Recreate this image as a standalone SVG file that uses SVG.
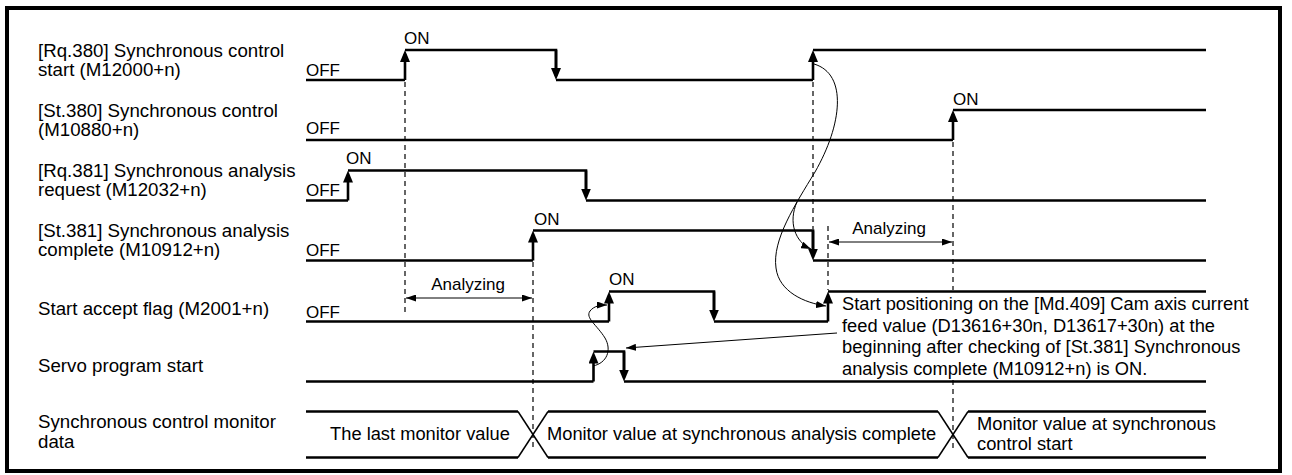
<svg xmlns="http://www.w3.org/2000/svg" width="1292" height="475" viewBox="0 0 1292 475">
<defs>
<style>
.t{font-family:"Liberation Sans",Arial,sans-serif;fill:#000}
.lbl{font-size:18.7px}
.st{font-size:17px}
.note{font-size:18.3px}
.sig{fill:none;stroke:#000;stroke-width:2.6;stroke-linejoin:miter}
.edge{stroke:#000;stroke-width:2.6;marker-end:url(#big)}
.dash{stroke:#000;stroke-width:1.2;stroke-dasharray:5 4;fill:none}
.thin{fill:none;stroke:#000;stroke-width:1}
.dim{stroke:#000;stroke-width:1;marker-end:url(#small);marker-start:url(#small)}
.diag{stroke:#000;stroke-width:1.5}
</style>
<marker id="big" markerUnits="userSpaceOnUse" viewBox="0 0 12 10" markerWidth="12" markerHeight="10" refX="8" refY="5" orient="auto"><path d="M0,0 L12,5 L0,10 z" fill="#000"/></marker>
<marker id="small" markerUnits="userSpaceOnUse" viewBox="0 0 10 7" markerWidth="10" markerHeight="7" refX="10" refY="3.5" orient="auto-start-reverse"><path d="M0,0 L10,3.5 L0,7 z" fill="#000"/></marker>
</defs>
<rect x="7" y="8" width="1273" height="463" fill="#fff" stroke="#000" stroke-width="4"/>

<g id="row-rq380">
<text class="t lbl" x="38" y="56.5">[Rq.380] Synchronous control</text>
<text class="t lbl" x="38" y="75.5">start (M12000+n)</text>
<text class="t st" x="306" y="76">OFF</text>
<text class="t st" x="404" y="44">ON</text>
<polyline class="sig" points="306,80 405,80"/>
<line class="edge" x1="405" y1="80" x2="405" y2="54"/>
<polyline class="sig" points="405,50 556,50 556,70"/>
<line class="edge" x1="556" y1="50" x2="556" y2="76"/>
<polyline class="sig" points="556,80 813,80"/>
<line class="edge" x1="813" y1="80" x2="813" y2="54"/>
<polyline class="sig" points="813,50 1206,50"/>
</g>

<g id="row-st380">
<text class="t lbl" x="38" y="116.5">[St.380] Synchronous control</text>
<text class="t lbl" x="38" y="135.5">(M10880+n)</text>
<text class="t st" x="306" y="134">OFF</text>
<text class="t st" x="953" y="105">ON</text>
<polyline class="sig" points="306,140 953,140"/>
<line class="edge" x1="953" y1="140" x2="953" y2="114"/>
<polyline class="sig" points="953,110 1206,110"/>
</g>

<g id="row-rq381">
<text class="t lbl" x="38" y="177">[Rq.381] Synchronous analysis</text>
<text class="t lbl" x="38" y="196">request (M12032+n)</text>
<text class="t st" x="306" y="196">OFF</text>
<text class="t st" x="346" y="164">ON</text>
<polyline class="sig" points="306,200.5 348,200.5"/>
<line class="edge" x1="348" y1="200.5" x2="348" y2="174.5"/>
<polyline class="sig" points="348,170.5 586,170.5 586,190"/>
<line class="edge" x1="586" y1="170.5" x2="586" y2="196.5"/>
<polyline class="sig" points="586,200.5 1206,200.5"/>
</g>

<g id="row-st381">
<text class="t lbl" x="38" y="237">[St.381] Synchronous analysis</text>
<text class="t lbl" x="38" y="256">complete (M10912+n)</text>
<text class="t st" x="306" y="256">OFF</text>
<text class="t st" x="534" y="225">ON</text>
<polyline class="sig" points="306,260.5 533,260.5"/>
<line class="edge" x1="533" y1="260.5" x2="533" y2="234.5"/>
<polyline class="sig" points="533,230.5 813,230.5 813,250"/>
<line class="edge" x1="813" y1="230.5" x2="813" y2="256.5"/>
<polyline class="sig" points="813,260.5 1206,260.5"/>
</g>

<g id="row-accept">
<text class="t lbl" x="38" y="315">Start accept flag (M2001+n)</text>
<text class="t st" x="306" y="318">OFF</text>
<text class="t st" x="609" y="285">ON</text>
<polyline class="sig" points="306,321.5 609,321.5"/>
<line class="edge" x1="609" y1="321.5" x2="609" y2="295.5"/>
<polyline class="sig" points="609,291.5 714,291.5 714,310"/>
<line class="edge" x1="714" y1="291.5" x2="714" y2="317.5"/>
<polyline class="sig" points="714,321.5 828,321.5"/>
<line class="edge" x1="828" y1="321.5" x2="828" y2="295.5"/>
<polyline class="sig" points="828,291.5 1206,291.5"/>
</g>

<g id="row-servo">
<text class="t lbl" x="38" y="372">Servo program start</text>
<polyline class="sig" points="306,381.5 593.5,381.5"/>
<line class="edge" x1="593.5" y1="381.5" x2="593.5" y2="355.5"/>
<polyline class="sig" points="593.5,351.5 624,351.5 624,370"/>
<line class="edge" x1="624" y1="351.5" x2="624" y2="377.5"/>
<polyline class="sig" points="624,381.5 1206,381.5"/>
</g>

<g id="row-monitor">
<text class="t lbl" x="38" y="428">Synchronous control monitor</text>
<text class="t lbl" x="38" y="448">data</text>
<polyline class="sig" points="306,411.5 518,411.5"/>
<polyline class="sig" points="306,457.5 518,457.5"/>
<line class="diag" x1="518" y1="411.5" x2="548" y2="457.5"/>
<line class="diag" x1="518" y1="457.5" x2="548" y2="411.5"/>
<polyline class="sig" points="548,411.5 938,411.5"/>
<polyline class="sig" points="548,457.5 938,457.5"/>
<line class="diag" x1="938" y1="411.5" x2="968" y2="457.5"/>
<line class="diag" x1="938" y1="457.5" x2="968" y2="411.5"/>
<polyline class="sig" points="968,411.5 1206,411.5"/>
<polyline class="sig" points="968,457.5 1206,457.5"/>
<text class="t note" x="420" y="440" text-anchor="middle">The last monitor value</text>
<text class="t note" x="547" y="440">Monitor value at synchronous analysis complete</text>
<text class="t note" x="977" y="430">Monitor value at synchronous</text>
<text class="t note" x="977" y="450">control start</text>
</g>

<g id="note">
<text class="t note" x="842" y="310">Start positioning on the [Md.409] Cam axis current</text>
<text class="t note" x="842" y="331.5">feed value (D13616+30n, D13617+30n) at the</text>
<text class="t note" x="842" y="353">beginning after checking of [St.381] Synchronous</text>
<text class="t note" x="842" y="374.5">analysis complete (M10912+n) is ON.</text>
</g>

<g id="analyzing-1">
<text class="t st" x="468" y="290" text-anchor="middle">Analyzing</text>
<line class="dim" x1="406" y1="298" x2="532" y2="298"/>
</g>
<g id="analyzing-2">
<text class="t st" x="889" y="234" text-anchor="middle">Analyzing</text>
<line class="dim" x1="829" y1="242" x2="952" y2="242"/>
</g>

<g id="connectors">
<line class="dash" x1="405" y1="82" x2="405" y2="316"/>
<line class="dash" x1="533" y1="262" x2="533" y2="450"/>
<line class="dash" x1="813" y1="82" x2="813" y2="229"/>
<line class="dash" x1="828" y1="226" x2="828" y2="290"/>
<line class="dash" x1="953" y1="142" x2="953" y2="290"/>
<line class="dash" x1="953" y1="380" x2="953" y2="450"/>
<path class="thin" marker-end="url(#small)" d="M814,64 C848,74 842,125 815,172 C795,205 772,240 776,268 C779,292 805,303 826,306"/>
<path class="thin" marker-end="url(#small)" d="M797,202 C788,222 795,242 811,249"/>
<path class="thin" marker-end="url(#small)" d="M593,366 C607,363 612,350 605,338 C597,325 585,318 590,311 C594,306 600,305 607,305"/>
<line class="thin" marker-end="url(#small)" x1="837" y1="333" x2="626" y2="348"/>
</g>
</svg>
